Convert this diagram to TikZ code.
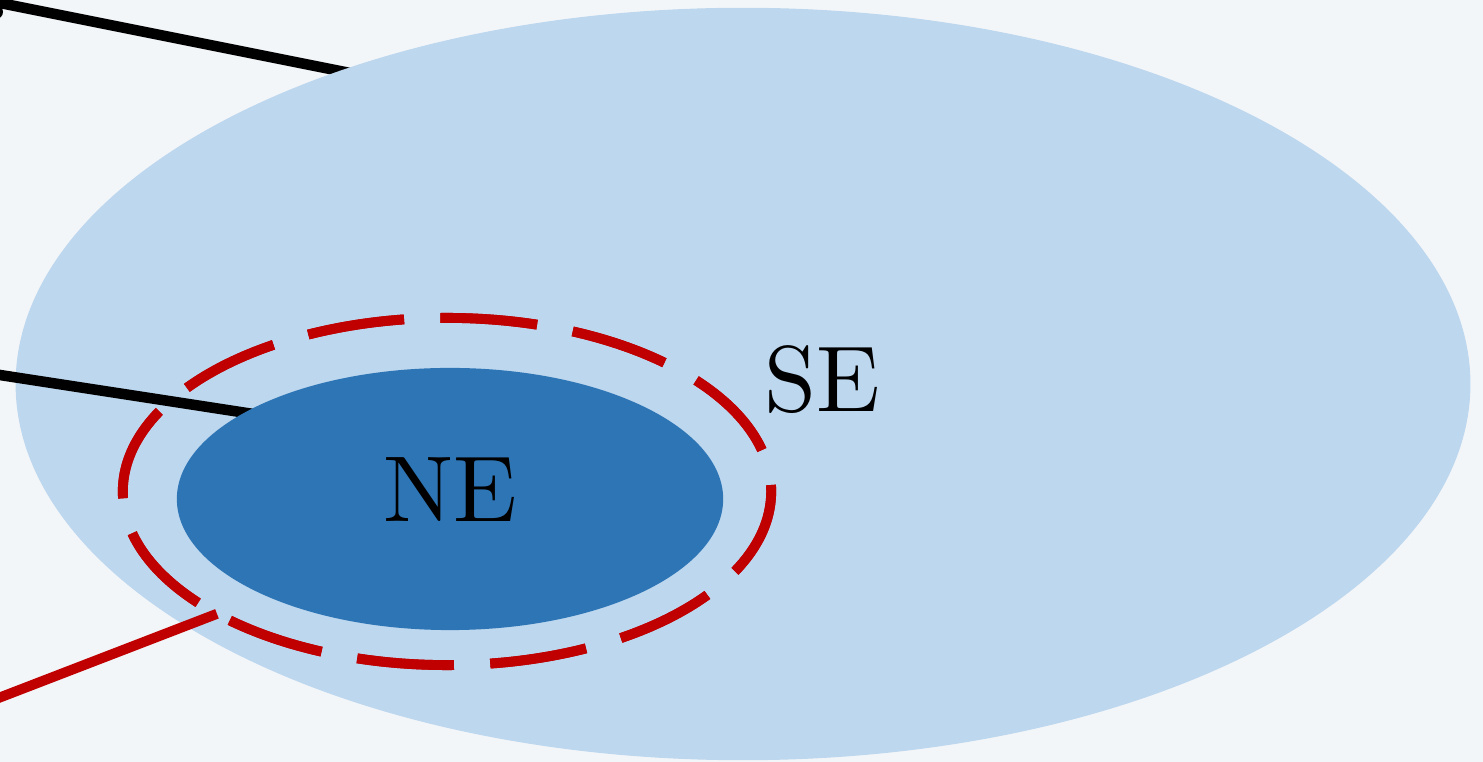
\documentclass[tikz,border=0pt]{standalone}
\usetikzlibrary{shapes.geometric}

\definecolor{bgpaper}{HTML}{F3F6F9}
\definecolor{setlight}{HTML}{BDD7EE}
\definecolor{setdark}{HTML}{2E75B6}
\definecolor{ringred}{HTML}{C00000}

% set names are typeset at 10pt design size and enlarged
\newcommand{\setname}[1]{\scalebox{2.66}{\fontsize{10}{12}\selectfont #1}}

\tikzset{
  region/.style={ellipse, inner sep=0pt, outer sep=0pt, draw=none},
  ringstyle/.style={ellipse, inner sep=0pt, outer sep=0pt, draw=ringred,
    line width=2.8pt,
    dash pattern=on 27.6pt off 10.33pt, dash phase=25.75pt},
  link/.style={line width=3pt},
  lbl/.style={inner sep=0pt},
}

\begin{document}
\begin{tikzpicture}[x=0.01cm, y=-0.01cm]
  % canvas
  \fill[bgpaper] (0,0) rectangle (1483,762);
  \useasboundingbox (0,0) rectangle (1483,762);

  % end points of the incoming connectors
  \coordinate (topin)  at (-30,-3);
  \coordinate (topend) at (400,83);
  \coordinate (midin)  at (-30,370.4);
  \coordinate (midend) at (300,421.2);
  \coordinate (lowin)  at (-30,709);

  % small mark at the upper left corner
  \fill (-4,12) circle (7);

  % connector that runs in under the outer set
  \draw[link] (topin) -- (topend);

  % outer set
  \node[region, fill=setlight, minimum width=14.54cm, minimum height=7.52cm]
    (se) at (743,384) {};

  % connector that runs in under the inner set
  \draw[link] (midin) -- (midend);

  % inner set
  \node[region, fill=setdark, minimum width=5.46cm, minimum height=2.62cm]
    (ne) at (450,499) {};

  % dashed boundary around the inner set and its connector
  \node[ringstyle, minimum width=6.48cm, minimum height=3.47cm]
    (ring) at (447,491.5) {};
  \draw[link, ringred, line width=2.85pt] (lowin) -- (ring.208);
  \node[ringstyle, minimum width=6.48cm, minimum height=3.47cm] at (447,491.5) {};

  % labels
  \node[lbl] (nelabel) at (450,489.5) {\setname{NE}};
  \node[lbl] (selabel) at (822.5,379.5) {\setname{SE}};
\end{tikzpicture}
\end{document}
